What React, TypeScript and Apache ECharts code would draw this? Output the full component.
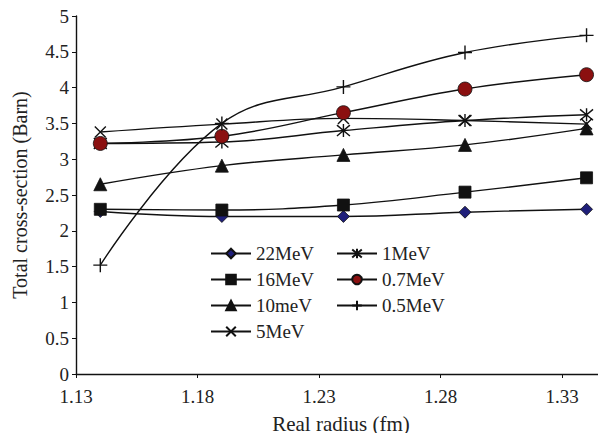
import React, { useEffect, useRef } from "react";
import * as echarts from "echarts";

const radius = [1.14, 1.19, 1.24, 1.29, 1.34];
const mev22 = [2.27, 2.2, 2.2, 2.26, 2.3];
const mev16 = [2.3, 2.29, 2.36, 2.54, 2.74];
const mev10 = [2.65, 2.91, 3.06, 3.2, 3.43];
const mev5 = [3.38, 3.49, 3.57, 3.54, 3.49];
const mev1 = [3.22, 3.24, 3.4, 3.54, 3.62];
const mev07 = [3.22, 3.32, 3.65, 3.98, 4.18];
const mev05 = [1.52, 3.5, 4.01, 4.49, 4.73];

const FONT = "Liberation Serif";
const PLUS = "path://M0,5L10,5M5,0L5,10";
const CROSS = "path://M0,0L10,10M10,0L0,10";
const STAR = "path://M0,0L10,10M10,0L0,10M5,-1L5,11";

function pairs(ys: number[]) {
  return radius.map((x, i) => [x, ys[i]]);
}

export default function App() {
  const ref = useRef<HTMLDivElement>(null);
  useEffect(() => {
    if (!ref.current) return;
    const chart = echarts.init(ref.current, null, { renderer: "svg" });
    const mk = (
      name: string,
      ys: number[],
      symbol: string,
      size: number,
      fill: string,
      stroke = false
    ) => ({
      name,
      type: "line",
      data: pairs(ys),
      smooth: 0.4,
      symbol,
      symbolSize: size,
      showAllSymbol: true,
      lineStyle: { color: "#111", width: 1.4 },
      itemStyle: stroke
        ? { color: "rgba(0,0,0,0)", borderColor: "#111", borderWidth: 1.4 }
        : { color: fill, borderColor: "#111", borderWidth: 0.8 },
      emphasis: { disabled: true },
      z: 3,
    });
    const legendCommon = {
      orient: "vertical",
      itemWidth: 40,
      itemHeight: 12,
      itemGap: 7,
      padding: 0,
      selectedMode: false,
      textStyle: { fontFamily: FONT, fontSize: 19, color: "#222" },
    };
    chart.setOption({
      animation: false,
      backgroundColor: "#fff",
      grid: {
        left: 76,
        right: 0,
        top: 16,
        bottom: 67,
        containLabel: false,
        outerBoundsMode: "none",
      },
      legend: [
        { ...legendCommon, left: 210, top: 244, data: ["22MeV", "16MeV", "10meV", "5MeV"] },
        { ...legendCommon, left: 336, top: 244, data: ["1MeV", "0.7MeV", "0.5MeV"] },
      ],
      xAxis: {
        type: "value",
        min: 1.13,
        max: 1.348,
        interval: 0.05,
        name: "Real radius (fm)",
        nameLocation: "middle",
        nameGap: 39,
        nameTextStyle: { fontFamily: FONT, fontSize: 21, color: "#222" },
        axisLine: { lineStyle: { color: "#111", width: 1.4 } },
        axisTick: { show: true, length: 4, lineStyle: { color: "#111" } },
        axisLabel: {
          fontFamily: FONT,
          fontSize: 19,
          color: "#222",
          margin: 13,
          showMaxLabel: false,
          formatter: (v: number) => v.toFixed(2),
        },
        splitLine: { show: false },
      },
      yAxis: {
        type: "value",
        min: 0,
        max: 5,
        interval: 0.5,
        name: "Total cross-section (Barn)",
        nameLocation: "middle",
        nameGap: 46,
        nameTextStyle: { fontFamily: FONT, fontSize: 20, color: "#222" },
        axisLine: { show: true, lineStyle: { color: "#111", width: 1.4 } },
        axisTick: { show: true, length: 4, lineStyle: { color: "#111" } },
        axisLabel: { fontFamily: FONT, fontSize: 19, color: "#222", margin: 7 },
        splitLine: { show: false },
      },
      series: [
        mk("22MeV", mev22, "diamond", 12, "#1f1f7a"),
        mk("16MeV", mev16, "rect", 12, "#111"),
        mk("10meV", mev10, "triangle", 13, "#111"),
        mk("5MeV", mev5, CROSS, 11, "#111", true),
        mk("1MeV", mev1, STAR, 13, "#111", true),
        mk("0.7MeV", mev07, "circle", 14, "#8b1010"),
        mk("0.5MeV", mev05, PLUS, 14, "#111", true),
      ],
    });
    return () => chart.dispose();
  }, []);
  return <div ref={ref} style={{ width: 606, height: 441, margin: -8 }} />;
}
